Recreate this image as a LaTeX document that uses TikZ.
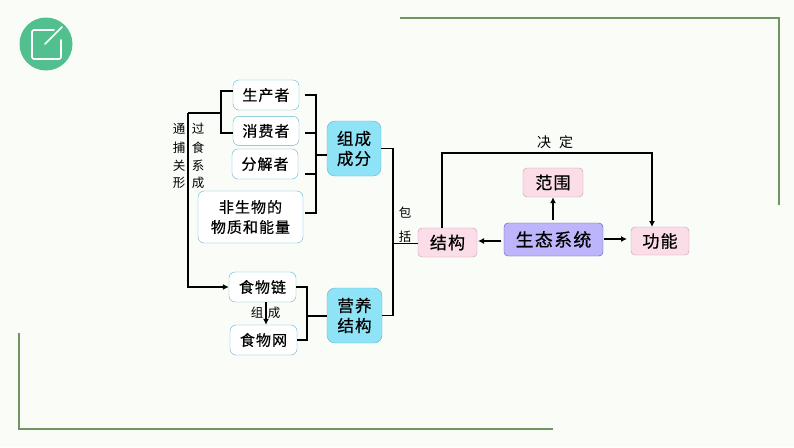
\documentclass[tikz,border=0pt]{standalone}
\usepackage{fontspec}
\setmainfont{Noto Sans CJK SC}[LetterSpace=7,FakeBold=0.5]
\newfontfamily\smallcjk{Noto Sans CJK SC}
\usepackage{xcolor}
\usetikzlibrary{positioning,calc,arrows.meta}
\definecolor{pagebg}{HTML}{FAFCF8}
\definecolor{framegreen}{HTML}{6F9560}
\definecolor{badgegreen}{HTML}{52BF8F}
\definecolor{skybox}{HTML}{8FE3F7}
\definecolor{skyline}{HTML}{5FB4D0}
\definecolor{pinkbox}{HTML}{FBDDE8}
\definecolor{pinkline}{HTML}{C99AAE}
\definecolor{purplebox}{HTML}{BDB5FB}
\definecolor{purpleline}{HTML}{5A52A8}
\tikzset{
    every node/.style={font=\fontsize{15}{20}\selectfont},
    whitebox/.style={draw=skyline, fill=white, rounded corners=6pt, inner sep=0pt, align=center},
    cyanbox/.style={draw=skyline, fill=skybox, rounded corners=8pt, inner sep=0pt, align=center, font=\fontsize{16.5}{20}\selectfont},
    pinkrect/.style={draw=pinkline, fill=pinkbox, rounded corners=4pt, inner sep=0pt, align=center, font=\fontsize{17}{20}\selectfont},
    purplerect/.style={draw=purpleline, fill=purplebox, rounded corners=4pt, inner sep=0pt, align=center, font=\fontsize{18}{20}\selectfont},
    link/.style={line width=1.5pt, black},
    arrow/.style={line width=1.5pt, -{Latex[length=6pt,width=6pt]}},
    tag/.style={inner sep=0pt, font=\fontsize{12.5}{14}\smallcjk},
    cornerline/.style={framegreen, line width=1.1pt},
}

\begin{document}
\begin{tikzpicture}[x=1pt,y=-1pt]
\useasboundingbox (0,0) rectangle (794,447);
\fill[pagebg] (0,0) rectangle (794,447);

% corner lines
\draw[cornerline] (400,18) -- (779,18) -- (779,205);
\draw[cornerline] (19,333) -- (19,429) -- (553,429);

% badge
\node[circle, fill=badgegreen, minimum size=53pt, inner sep=0pt] (badge) at (46,44) {};
\draw[white, line width=1.6pt, rounded corners=2pt, line cap=round]
  (54,30) -- (32,30) -- (32,59) -- (61,59) -- (61,40);
\draw[white, line width=1.6pt, line cap=round] (45,44) -- (62,27);

% left column
\node[whitebox, minimum width=66pt, minimum height=30pt] (prod) at (266,95) {生产者};
\node[whitebox, below=6pt of prod, minimum width=66pt, minimum height=29pt] (cons) {消费者};
\node[whitebox, minimum width=66pt, minimum height=30pt] (deco) at (265,164) {分解者};
\node[whitebox, minimum width=105pt, minimum height=52pt] (abio) at (250.5,217) {非生物的\\物质和能量};
\node[whitebox, minimum width=67pt, minimum height=30pt] (chain) at (262.5,287) {食物链};
\node[whitebox, minimum width=67pt, minimum height=30pt] (web) at (263.5,340) {食物网};

% cyan boxes
\node[cyanbox, minimum width=54pt, minimum height=55pt] (comp) at (354,148.5) {组成\\成分};
\node[cyanbox, minimum width=55pt, minimum height=55pt] (troph) at (354.5,315.5) {营养\\结构};

% right part
\node[pinkrect, minimum width=59pt, minimum height=29pt] (struct) at (447.5,242.5) {结构};
\node[purplerect, minimum width=99pt, minimum height=33pt] (eco) at (553.5,239.5) {生态系统};
\node[pinkrect, minimum width=60pt, minimum height=29pt] (range) at (553,182.5) {范围};
\node[pinkrect, minimum width=58pt, minimum height=28pt] (func) at (660,241) {功能};

% junctions
\coordinate (forkA) at (221,113);
\coordinate (trunk) at (188,113);
\coordinate (barA) at (316,155);
\coordinate (barB) at (307,316);
\coordinate (barC) at (393,243);

% food relation bracket
\draw[link] (prod.west |- 0,91) -- (221,91) -- (221,133) -- (cons.west |- 0,133);
\draw[link] (forkA) -- (trunk);
\draw[arrow] (trunk) |- (chain.west);

% bracket into the composition box
\foreach \yy in {95,133,174,213}{
  \draw[link] (305,\yy) -- (barA |- 0,\yy);
}
\draw[link, line cap=rect] (barA |- 0,95) -- (barA |- 0,213);
\draw[link] (barA) -- (comp.west |- barA);

% bracket into the trophic box
\draw[link] (chain.east) -- (barB |- chain.east) -- (barB |- web.east) -- (web.east);
\draw[link] (barB) -- (troph.west |- barB);
\draw[arrow] ($(chain.south)+(3.5,0)$) -- ($(web.north)+(2.5,0)$);

% bracket to the structure box
\draw[link] (comp.east) -- (barC |- comp.east) -- (barC |- troph.east) -- (troph.east);
\draw[link, line width=1pt] (barC) -- (struct.west |- barC);

% top loop and arrows
\draw[arrow] (442,228) |- (652,153) -- (652,227);
\draw[arrow] (553,220) -- (range.south);
\draw[arrow] (501,241) -- (478,241);
\draw[arrow] (604,239) -- (627,239);

% small labels
\foreach \yy/\left/\right in {129/通/过,148/捕/食,166/关/系,183/形/成}{
  \node[tag] (a\yy) at (179,\yy) {\left};
  \node[tag] (b\yy) at (198,\yy) {\right};
}
\node[tag] (lbA) at (257,313) {组};
\node[tag] (lbB) at (274,313) {成};
\node[tag] (lbC) at (405,213) {包};
\node[tag] (lbD) at (405,237) {括};
\node[tag, font=\fontsize{14}{14}\smallcjk] (lbE) at (555,142) {决\hspace{8pt}定};
\end{tikzpicture}
\end{document}
